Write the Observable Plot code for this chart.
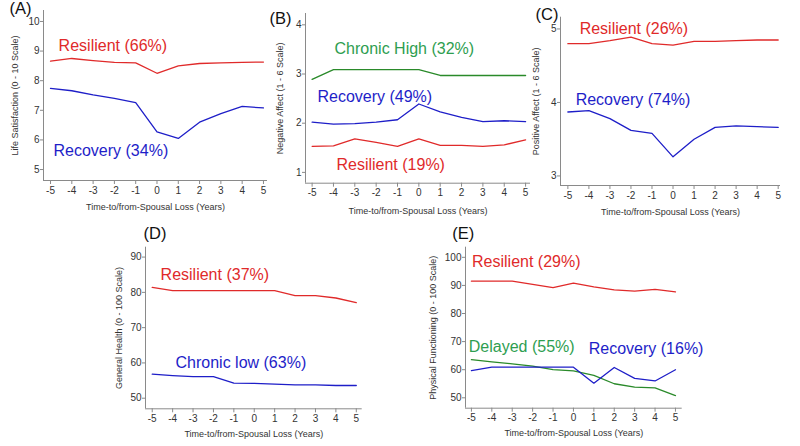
<!DOCTYPE html>
<html>
<head>
<meta charset="utf-8">
<script src="https://cdn.jsdelivr.net/npm/d3@7"></script>
<script src="https://cdn.jsdelivr.net/npm/@observablehq/plot@0.6"></script>
<style>
  html, body { margin: 0; padding: 0; background: #fff; }
  #chart { position: relative; width: 800px; height: 446px; overflow: hidden; background: #fff; }
  #chart svg { position: absolute; overflow: visible; }
</style>
</head>
<body>
<div id="chart"></div>
<script>
// ---- data ----
const years = [-5, -4, -3, -2, -1, 0, 1, 2, 3, 4, 5];
const xTitle = "Time-to/from-Spousal Loss (Years)";

// (A) Life Satisfaction
const aResilient = [8.66, 8.75, 8.68, 8.62, 8.60, 8.25, 8.50, 8.58, 8.60, 8.62, 8.63];
const aRecovery  = [7.74, 7.66, 7.52, 7.40, 7.26, 6.27, 6.05, 6.60, 6.89, 7.13, 7.08];
const aTicks = [5, 6, 7, 8, 9, 10];

// (B) Negative Affect
const bChronicHigh = [2.89, 3.09, 3.09, 3.09, 3.09, 3.09, 2.97, 2.97, 2.97, 2.97, 2.97];
const bRecovery    = [2.02, 1.98, 1.99, 2.02, 2.07, 2.39, 2.23, 2.12, 2.03, 2.05, 2.03];
const bResilient   = [1.53, 1.54, 1.68, 1.61, 1.53, 1.68, 1.55, 1.55, 1.53, 1.56, 1.66];
const bTicks = [1, 2, 3, 4];

// (C) Positive Affect
const cResilient = [4.80, 4.80, 4.84, 4.89, 4.80, 4.78, 4.83, 4.83, 4.84, 4.85, 4.85];
const cRecovery  = [3.87, 3.89, 3.78, 3.62, 3.58, 3.26, 3.50, 3.66, 3.68, 3.67, 3.66];
const cTicks = [3, 4, 5];

// (D) General Health
const dResilient  = [81.4, 80.5, 80.5, 80.5, 80.5, 80.5, 80.5, 79.1, 79.1, 78.4, 77.1];
const dChronicLow = [56.8, 56.4, 56.1, 56.1, 54.3, 54.2, 54.0, 53.8, 53.8, 53.6, 53.6];
const dTicks = [50, 60, 70, 80, 90];

// (E) Physical Functioning
const eResilient = [91.5, 91.5, 91.5, 90.4, 89.2, 90.8, 89.5, 88.4, 88.0, 88.6, 87.7];
const eDelayed   = [63.6, 62.8, 62.1, 61.3, 60.0, 59.6, 58.0, 55.0, 53.8, 53.5, 50.8];
const eRecovery  = [59.7, 60.9, 60.9, 60.9, 60.9, 60.9, 55.2, 60.8, 56.9, 56.0, 60.0];
const eTicks = [50, 60, 70, 80, 90, 100];

// ---- styles ----
const RED = "#e02a2a", BLUE = "#1e1ec8", GREEN_LINE = "#2a8a2a", GREEN_TEXT = "#2e9e50";
const AXIS = "#8a8a8a", TICKTEXT = "#333";
const FONT = "'Liberation Sans', Arial, Helvetica, sans-serif";

const panels = [
  {
    tag: "(A)", left: 0, top: 0, width: 270, height: 220,
    mL: 43, mR: 3, mT: 10, mB: 40,
    xDomain: [-5.33, 5.19], yDomain: [4.63, 10.37], yTicks: aTicks,
    yLabel: "Life Satisfaction (0 - 10 Scale)", yLabelDx: -28, xTitleDy: 27,
    tagDx: -34, tagDy: -2,
    series: [
      {values: aResilient, stroke: RED},
      {values: aRecovery, stroke: BLUE}
    ],
    labels: [
      {x: -4.62, y: 9.19, text: "Resilient (66%)", fill: RED},
      {x: -4.86, y: 5.63, text: "Recovery (34%)", fill: BLUE}
    ]
  },
  {
    tag: "(B)", left: 265, top: 0, width: 270, height: 220,
    mL: 40, mR: 5, mT: 13, mB: 37.3,
    xDomain: [-5.31, 5.23], yDomain: [0.78, 4.23], yTicks: bTicks,
    yLabel: "Negative Affect (1 - 6 Scale)", yLabelDx: -25, xTitleDy: 28,
    tagDx: -36, tagDy: 5,
    series: [
      {values: bChronicHigh, stroke: GREEN_LINE},
      {values: bRecovery, stroke: BLUE},
      {values: bResilient, stroke: RED}
    ],
    labels: [
      {x: -3.95, y: 3.52, text: "Chronic High (32%)", fill: GREEN_TEXT},
      {x: -4.75, y: 2.54, text: "Recovery (49%)", fill: BLUE},
      {x: -3.86, y: 1.16, text: "Resilient (19%)", fill: RED}
    ]
  },
  {
    tag: "(C)", left: 530, top: 0, width: 270, height: 220,
    mL: 30, mR: 20, mT: 16.7, mB: 35,
    xDomain: [-5.35, 5.11], yDomain: [2.87, 5.16], yTicks: cTicks,
    yLabel: "Positive Affect (1 - 6 Scale)", yLabelDx: -24, xTitleDy: 26.7,
    tagDx: -25, tagDy: -2.5,
    series: [
      {values: cResilient, stroke: RED},
      {values: cRecovery, stroke: BLUE}
    ],
    labels: [
      {x: -4.44, y: 5.0, text: "Resilient (26%)", fill: RED},
      {x: -4.63, y: 4.04, text: "Recovery (74%)", fill: BLUE}
    ]
  },
  {
    tag: "(D)", left: 90, top: 220, width: 280, height: 226,
    mL: 55, mR: 8.3, mT: 26.7, mB: 37.7,
    xDomain: [-5.33, 5.29], yDomain: [47, 92.8], yTicks: dTicks,
    yLabel: "General Health (0 - 100 Scale)", yLabelDx: -26, xTitleDy: 25,
    tagDx: -2, tagDy: -13.7,
    series: [
      {values: dResilient, stroke: RED},
      {values: dChronicLow, stroke: BLUE}
    ],
    labels: [
      {x: -4.59, y: 85.0, text: "Resilient (37%)", fill: RED},
      {x: -3.86, y: 59.9, text: "Chronic low (63%)", fill: BLUE}
    ]
  },
  {
    tag: "(E)", left: 400, top: 220, width: 290, height: 226,
    mL: 65, mR: 8.3, mT: 26.7, mB: 38.3,
    xDomain: [-5.29, 5.33], yDomain: [46.3, 103.6], yTicks: eTicks,
    yLabel: "Physical Functioning (0 - 100 Scale)", yLabelDx: -32, xTitleDy: 25,
    tagDx: -13.3, tagDy: -13.7,
    series: [
      {values: eResilient, stroke: RED},
      {values: eDelayed, stroke: GREEN_LINE},
      {values: eRecovery, stroke: BLUE}
    ],
    labels: [
      {x: -4.97, y: 98.3, text: "Resilient (29%)", fill: RED},
      {x: -5.13, y: 68.0, text: "Delayed (55%)", fill: GREEN_TEXT},
      {x: 0.75, y: 67.4, text: "Recovery (16%)", fill: BLUE}
    ]
  }
];

const chart = document.getElementById("chart");

for (const p of panels) {
  const lineMarks = p.series.map(s =>
    Plot.line(years.map((yr, i) => ({x: yr, y: s.values[i]})), {
      x: "x", y: "y", stroke: s.stroke, strokeWidth: 1.3
    })
  );
  const svg = Plot.plot({
    width: p.width,
    height: p.height,
    marginLeft: p.mL,
    marginRight: p.mR,
    marginTop: p.mT,
    marginBottom: p.mB,
    x: {domain: p.xDomain},
    y: {domain: p.yDomain},
    style: {fontFamily: FONT, background: "transparent", overflow: "visible"},
    marks: [
      Plot.ruleX([p.xDomain[0]], {stroke: AXIS, strokeWidth: 1}),
      Plot.ruleY([p.yDomain[0]], {stroke: AXIS, strokeWidth: 1}),
      Plot.axisX(years, {
        tickSize: 4, tickPadding: 2, tickFormat: d => String(d),
        fontSize: 10, stroke: AXIS, fill: TICKTEXT, label: null
      }),
      Plot.axisY(p.yTicks, {
        tickSize: 3, tickPadding: 1, tickFormat: d => String(d),
        fontSize: 10, stroke: AXIS, fill: TICKTEXT, label: null
      }),
      ...lineMarks,
      Plot.text(p.labels, {
        x: "x", y: "y", text: "text", fill: "fill",
        textAnchor: "start", lineAnchor: "middle", fontSize: 16
      }),
      Plot.text([xTitle], {
        text: d => d, frameAnchor: "bottom", textAnchor: "middle", lineAnchor: "middle",
        dy: p.xTitleDy, fontSize: 9, fill: TICKTEXT
      }),
      Plot.text([p.yLabel], {
        text: d => d, frameAnchor: "left", rotate: -90, textAnchor: "middle", lineAnchor: "middle",
        dx: p.yLabelDx, fontSize: 9, fill: TICKTEXT
      }),
      Plot.text([p.tag], {
        text: d => d, frameAnchor: "top-left", textAnchor: "start", lineAnchor: "middle",
        dx: p.tagDx, dy: p.tagDy, fontSize: 16.5, fill: "#111"
      })
    ]
  });
  svg.style.left = p.left + "px";
  svg.style.top = p.top + "px";
  chart.appendChild(svg);
}
</script>
</body>
</html>
